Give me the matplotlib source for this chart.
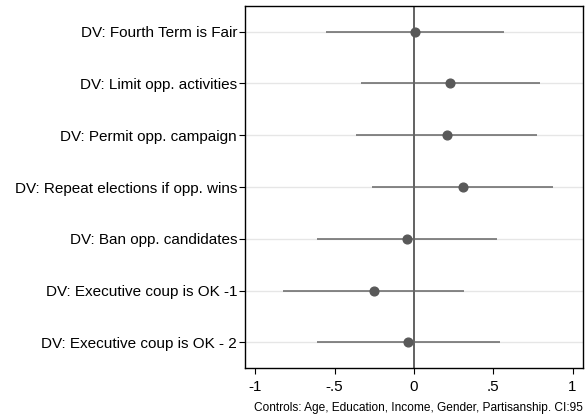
import numpy as np
import matplotlib
matplotlib.use("Agg")
import matplotlib.pyplot as plt

plt.rcParams['font.family'] = ['Liberation Sans', 'DejaVu Sans']

# Coefficients and 95% confidence intervals
labels = ["DV: Fourth Term is Fair",
          "DV: Limit opp. activities",
          "DV: Permit opp. campaign",
          "DV: Repeat elections if opp. wins",
          "DV: Ban opp. candidates",
          "DV: Executive coup is OK -1",
          "DV: Executive coup is OK - 2"]
coef = [0.004, 0.229, 0.208, 0.309, -0.042, -0.254, -0.034]
ci_low = [-0.554, -0.336, -0.365, -0.261, -0.609, -0.825, -0.611]
ci_high = [0.569, 0.794, 0.779, 0.877, 0.525, 0.317, 0.541]
xticks = [-1, -0.5, 0, 0.5, 1]
xticklabels = ["-1", "-.5", "0", ".5", "1"]

fig = plt.figure(figsize=(5.87, 4.17), dpi=100)
ax = fig.add_axes([0.418, 0.118, 0.5747, 0.8683])

ypos = np.arange(1, len(labels) + 1)

for y in ypos:
    ax.axhline(y, color="#e6e6e6", lw=1.0, zorder=0)
ax.axvline(0, color="#555555", lw=1.3, zorder=1)

ax.hlines(ypos, ci_low, ci_high, color="#666666", lw=1.1, zorder=2)
ax.plot(coef, ypos, "o", color="#595959", ms=6.3, zorder=3)

ax.set_xlim(-1.062, 1.064)
ax.set_ylim(7.49, 0.5)
ax.set_yticks(ypos)
ax.set_yticklabels(labels, fontsize=11)
ax.set_xticks(xticks)
ax.set_xticklabels(xticklabels, fontsize=10.9)
ax.tick_params(axis="both", direction="out", length=4, width=0.8, color="black")
ax.tick_params(axis="x", pad=5)
ax.tick_params(axis="y", pad=2)

for s in ax.spines.values():
    s.set_color("black")
    s.set_linewidth(1.0)

fig.text(0.9927, 0.008, "Controls: Age, Education, Income, Gender, Partisanship. CI:95",
         ha="right", va="bottom", fontsize=8.6)

fig.savefig("out.png", dpi=100)
